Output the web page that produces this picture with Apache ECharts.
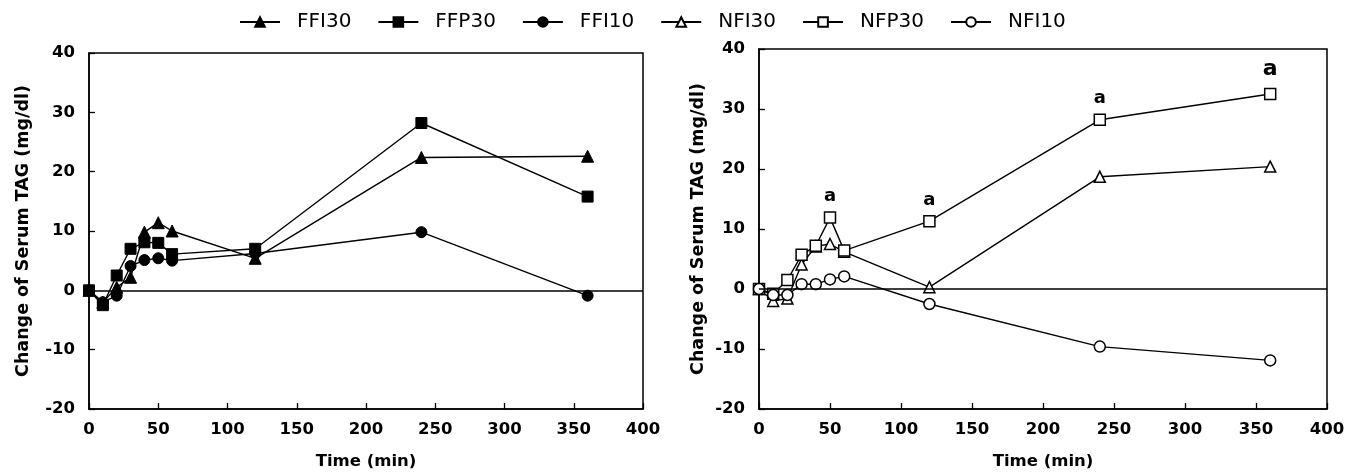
<!DOCTYPE html>
<html>
<head>
<meta charset="utf-8">
<script src="https://cdn.jsdelivr.net/npm/echarts@6/dist/echarts.min.js"></script>
<style>html,body{margin:0;padding:0;background:#fff}#c{width:1360px;height:475px}</style>
</head>
<body>
<div id="c"></div>
<script>
const times = [0, 10, 20, 30, 40, 50, 60, 120, 240, 360];
const FFI30 = [0, -2, 0.5, 2.2, 9.8, 11.4, 10, 5.4, 22.4, 22.6];
const FFP30 = [0, -2.5, 2.5, 7, 8.1, 8, 6.1, 7, 28.2, 15.8];
const FFI10 = [0, -2, -0.9, 4.1, 5.1, 5.4, 5, 6.2, 9.8, -0.9];
const NFI30 = [0, -2, -1.6, 4.1, 7.1, 7.5, 6.2, 0.3, 18.7, 20.4];
const NFP30 = [0, -0.8, 1.5, 5.7, 7.2, 11.9, 6.4, 11.3, 28.2, 32.5];
const NFI10 = [0, -1, -1, 0.8, 0.8, 1.6, 2.1, -2.5, -9.6, -11.9];
const sigMarks = ['', '', '', '', '', 'a', '', 'a', 'a', 'a'];
const xTicks = [0, 50, 100, 150, 200, 250, 300, 350, 400];
const yTicks = [-20, -10, 0, 10, 20, 30, 40];
const seriesNames = ['FFI30', 'FFP30', 'FFI10', 'NFI30', 'NFP30', 'NFI10'];

const FONT = 'DejaVu Sans';
const pairs = v => times.map((t, i) => [t, v[i]]);

function xAxis(gi) {
  return {
    type: 'value', gridIndex: gi, min: xTicks[0], max: xTicks[xTicks.length - 1], interval: 50,
    name: 'Time (min)', nameLocation: 'middle', nameGap: 44,
    nameTextStyle: {fontFamily: FONT, fontWeight: 'bold', fontSize: 16.5, color: '#000'},
    axisLine: {show: true, onZero: false, lineStyle: {color: '#000', width: 1.5}},
    axisTick: {show: true, inside: true, length: 6, lineStyle: {color: '#000', width: 1.3}},
    axisLabel: {fontFamily: FONT, fontWeight: 'bold', fontSize: 16.5, color: '#000', margin: 12},
    splitLine: {show: false}
  };
}
function yAxis(gi, gap) {
  return {
    type: 'value', gridIndex: gi, min: yTicks[0], max: yTicks[yTicks.length - 1], interval: 10,
    name: 'Change of Serum TAG (mg/dl)', nameLocation: 'middle', nameGap: gap,
    nameTextStyle: {fontFamily: FONT, fontWeight: 'bold', fontSize: 17.5, color: '#000'},
    axisLine: {show: true, onZero: false, lineStyle: {color: '#000', width: 1.5}},
    axisTick: {show: true, inside: true, length: 6, lineStyle: {color: '#000', width: 1.3}},
    axisLabel: {fontFamily: FONT, fontWeight: 'bold', fontSize: 16.5, color: '#000', margin: 14},
    splitLine: {show: false}
  };
}
const zeroLine = {
  silent: true, symbol: 'none', label: {show: false},
  lineStyle: {color: '#000', width: 1.5, type: 'solid'},
  data: [{yAxis: 0}]
};
function mk(name, vals, gi, symbol, size, filled, extra) {
  const s = {
    name, type: 'line', xAxisIndex: gi, yAxisIndex: gi,
    data: pairs(vals), symbol, symbolSize: size, showAllSymbol: true,
    lineStyle: {color: '#000', width: 1.4},
    itemStyle: filled ? {color: '#000', borderColor: '#000', borderWidth: 1}
                      : {color: '#fff', borderColor: '#000', borderWidth: 1.5},
    emphasis: {disabled: true},
    z: 3
  };
  return Object.assign(s, extra || {});
}
const nfp30Data = times.map((t, i) => {
  const d = {value: [t, NFP30[i]]};
  if (sigMarks[i]) {
    d.label = {
      show: true, formatter: sigMarks[i], position: 'top',
      distance: i === times.length - 1 ? 7 : 6,
      fontFamily: FONT, fontWeight: 'bold', color: '#000',
      fontSize: i === times.length - 1 ? 22 : 18
    };
  }
  return d;
});

const chart = echarts.init(document.getElementById('c'), null, {renderer: 'canvas'});
chart.setOption({
  animation: false,
  backgroundColor: '#fff',
  legend: {
    top: 7, left: 234, itemWidth: 40, itemHeight: 12, itemGap: 26,
    data: seriesNames,
    textStyle: {fontFamily: FONT, fontSize: 20, color: '#000', padding: [0, 0, 0, 12]}
  },
  grid: [
    {left: 89, right: 717, top: 53, bottom: 65, show: true, borderColor: '#000', borderWidth: 1.5},
    {left: 759, right: 33, top: 49, bottom: 62, show: true, borderColor: '#000', borderWidth: 1.5}
  ],
  xAxis: [xAxis(0), xAxis(1)],
  yAxis: [yAxis(0, 57), yAxis(1, 52)],
  series: [
    mk('FFI30', FFI30, 0, 'triangle', 12, true, {markLine: zeroLine}),
    mk('FFP30', FFP30, 0, 'rect', 11, true),
    mk('FFI10', FFI10, 0, 'circle', 11, true),
    mk('NFI30', NFI30, 1, 'triangle', 11, false, {markLine: zeroLine}),
    Object.assign(mk('NFP30', NFP30, 1, 'rect', 11, false), {data: nfp30Data}),
    mk('NFI10', NFI10, 1, 'circle', 11, false)
  ]
});
</script>
</body>
</html>
